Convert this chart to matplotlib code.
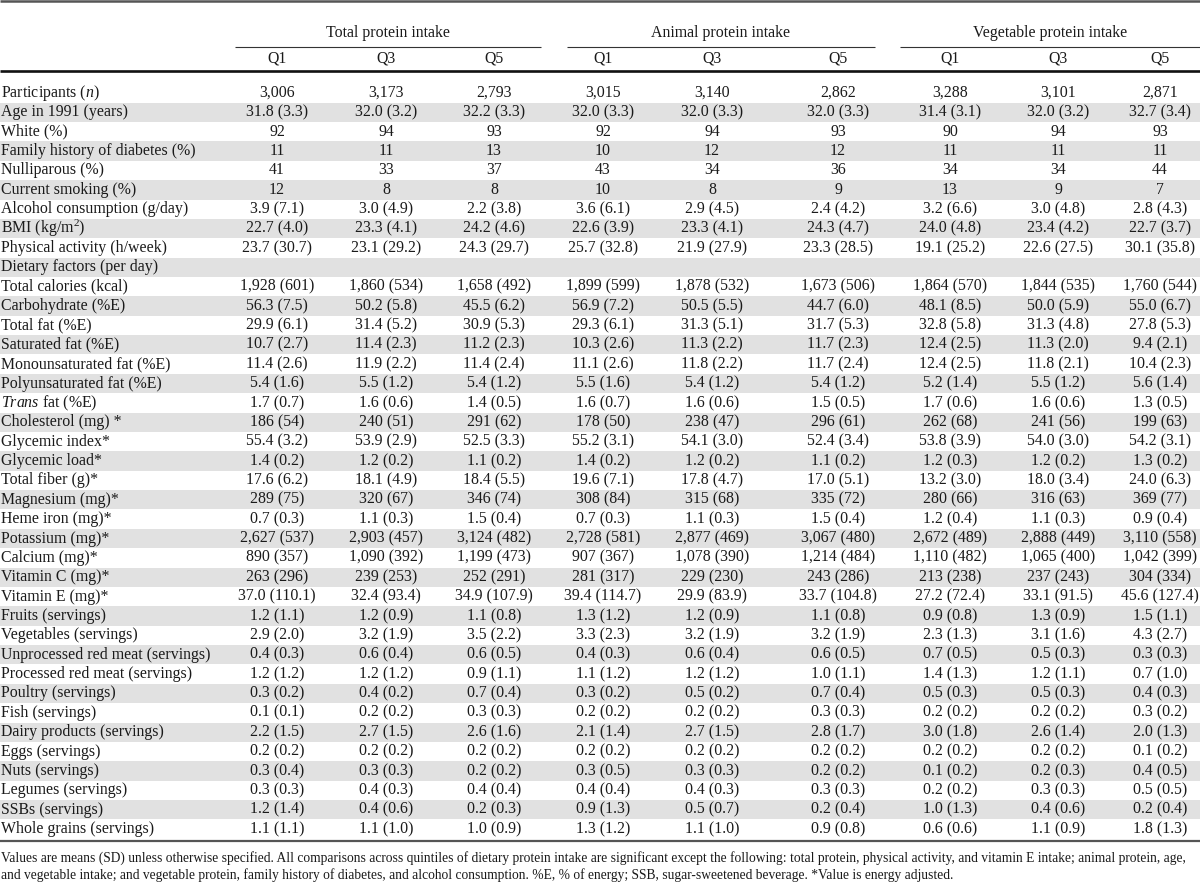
import matplotlib
matplotlib.use("Agg")
import matplotlib.pyplot as plt

plt.rcParams['font.family'] = ['Liberation Serif', 'DejaVu Serif']
plt.rcParams['mathtext.fontset'] = 'custom'
plt.rcParams['mathtext.rm'] = 'Liberation Serif'
plt.rcParams['mathtext.it'] = 'Liberation Serif:italic'

group_labels = ["Total protein intake", "Animal protein intake", "Vegetable protein intake"]
quintile_labels = ["Q1", "Q3", "Q5"]

row_labels = [
    "Participants ($n$)", "Age in 1991 (years)", "White (%)", "Family history of diabetes (%)",
    "Nulliparous (%)", "Current smoking (%)", "Alcohol consumption (g/day)", "BMI (kg/m$^2$)",
    "Physical activity (h/week)", "Dietary factors (per day)", "Total calories (kcal)",
    "Carbohydrate (%E)", "Total fat (%E)", "Saturated fat (%E)", "Monounsaturated fat (%E)",
    "Polyunsaturated fat (%E)", "$Trans$ fat (%E)", "Cholesterol (mg) *", "Glycemic index*",
    "Glycemic load*", "Total fiber (g)*", "Magnesium (mg)*", "Heme iron (mg)*", "Potassium (mg)*",
    "Calcium (mg)*", "Vitamin C (mg)*", "Vitamin E (mg)*", "Fruits (servings)",
    "Vegetables (servings)", "Unprocessed red meat (servings)", "Processed red meat (servings)",
    "Poultry (servings)", "Fish (servings)", "Dairy products (servings)", "Eggs (servings)",
    "Nuts (servings)", "Legumes (servings)", "SSBs (servings)", "Whole grains (servings)",
]

total_q1 = ["3,006", "31.8 (3.3)", "92", "11", "41", "12", "3.9 (7.1)", "22.7 (4.0)", "23.7 (30.7)", "",
            "1,928 (601)", "56.3 (7.5)", "29.9 (6.1)", "10.7 (2.7)", "11.4 (2.6)", "5.4 (1.6)", "1.7 (0.7)",
            "186 (54)", "55.4 (3.2)", "1.4 (0.2)", "17.6 (6.2)", "289 (75)", "0.7 (0.3)", "2,627 (537)",
            "890 (357)", "263 (296)", "37.0 (110.1)", "1.2 (1.1)", "2.9 (2.0)", "0.4 (0.3)", "1.2 (1.2)",
            "0.3 (0.2)", "0.1 (0.1)", "2.2 (1.5)", "0.2 (0.2)", "0.3 (0.4)", "0.3 (0.3)", "1.2 (1.4)", "1.1 (1.1)"]
total_q3 = ["3,173", "32.0 (3.2)", "94", "11", "33", "8", "3.0 (4.9)", "23.3 (4.1)", "23.1 (29.2)", "",
            "1,860 (534)", "50.2 (5.8)", "31.4 (5.2)", "11.4 (2.3)", "11.9 (2.2)", "5.5 (1.2)", "1.6 (0.6)",
            "240 (51)", "53.9 (2.9)", "1.2 (0.2)", "18.1 (4.9)", "320 (67)", "1.1 (0.3)", "2,903 (457)",
            "1,090 (392)", "239 (253)", "32.4 (93.4)", "1.2 (0.9)", "3.2 (1.9)", "0.6 (0.4)", "1.2 (1.2)",
            "0.4 (0.2)", "0.2 (0.2)", "2.7 (1.5)", "0.2 (0.2)", "0.3 (0.3)", "0.4 (0.3)", "0.4 (0.6)", "1.1 (1.0)"]
total_q5 = ["2,793", "32.2 (3.3)", "93", "13", "37", "8", "2.2 (3.8)", "24.2 (4.6)", "24.3 (29.7)", "",
            "1,658 (492)", "45.5 (6.2)", "30.9 (5.3)", "11.2 (2.3)", "11.4 (2.4)", "5.4 (1.2)", "1.4 (0.5)",
            "291 (62)", "52.5 (3.3)", "1.1 (0.2)", "18.4 (5.5)", "346 (74)", "1.5 (0.4)", "3,124 (482)",
            "1,199 (473)", "252 (291)", "34.9 (107.9)", "1.1 (0.8)", "3.5 (2.2)", "0.6 (0.5)", "0.9 (1.1)",
            "0.7 (0.4)", "0.3 (0.3)", "2.6 (1.6)", "0.2 (0.2)", "0.2 (0.2)", "0.4 (0.4)", "0.2 (0.3)", "1.0 (0.9)"]
animal_q1 = ["3,015", "32.0 (3.3)", "92", "10", "43", "10", "3.6 (6.1)", "22.6 (3.9)", "25.7 (32.8)", "",
             "1,899 (599)", "56.9 (7.2)", "29.3 (6.1)", "10.3 (2.6)", "11.1 (2.6)", "5.5 (1.6)", "1.6 (0.7)",
             "178 (50)", "55.2 (3.1)", "1.4 (0.2)", "19.6 (7.1)", "308 (84)", "0.7 (0.3)", "2,728 (581)",
             "907 (367)", "281 (317)", "39.4 (114.7)", "1.3 (1.2)", "3.3 (2.3)", "0.4 (0.3)", "1.1 (1.2)",
             "0.3 (0.2)", "0.2 (0.2)", "2.1 (1.4)", "0.2 (0.2)", "0.3 (0.5)", "0.4 (0.4)", "0.9 (1.3)", "1.3 (1.2)"]
animal_q3 = ["3,140", "32.0 (3.3)", "94", "12", "34", "8", "2.9 (4.5)", "23.3 (4.1)", "21.9 (27.9)", "",
             "1,878 (532)", "50.5 (5.5)", "31.3 (5.1)", "11.3 (2.2)", "11.8 (2.2)", "5.4 (1.2)", "1.6 (0.6)",
             "238 (47)", "54.1 (3.0)", "1.2 (0.2)", "17.8 (4.7)", "315 (68)", "1.1 (0.3)", "2,877 (469)",
             "1,078 (390)", "229 (230)", "29.9 (83.9)", "1.2 (0.9)", "3.2 (1.9)", "0.6 (0.4)", "1.2 (1.2)",
             "0.5 (0.2)", "0.2 (0.2)", "2.7 (1.5)", "0.2 (0.2)", "0.3 (0.3)", "0.4 (0.3)", "0.5 (0.7)", "1.1 (1.0)"]
animal_q5 = ["2,862", "32.0 (3.3)", "93", "12", "36", "9", "2.4 (4.2)", "24.3 (4.7)", "23.3 (28.5)", "",
             "1,673 (506)", "44.7 (6.0)", "31.7 (5.3)", "11.7 (2.3)", "11.7 (2.4)", "5.4 (1.2)", "1.5 (0.5)",
             "296 (61)", "52.4 (3.4)", "1.1 (0.2)", "17.0 (5.1)", "335 (72)", "1.5 (0.4)", "3,067 (480)",
             "1,214 (484)", "243 (286)", "33.7 (104.8)", "1.1 (0.8)", "3.2 (1.9)", "0.6 (0.5)", "1.0 (1.1)",
             "0.7 (0.4)", "0.3 (0.3)", "2.8 (1.7)", "0.2 (0.2)", "0.2 (0.2)", "0.3 (0.3)", "0.2 (0.4)", "0.9 (0.8)"]
veg_q1 = ["3,288", "31.4 (3.1)", "90", "11", "34", "13", "3.2 (6.6)", "24.0 (4.8)", "19.1 (25.2)", "",
          "1,864 (570)", "48.1 (8.5)", "32.8 (5.8)", "12.4 (2.5)", "12.4 (2.5)", "5.2 (1.4)", "1.7 (0.6)",
          "262 (68)", "53.8 (3.9)", "1.2 (0.3)", "13.2 (3.0)", "280 (66)", "1.2 (0.4)", "2,672 (489)",
          "1,110 (482)", "213 (238)", "27.2 (72.4)", "0.9 (0.8)", "2.3 (1.3)", "0.7 (0.5)", "1.4 (1.3)",
          "0.5 (0.3)", "0.2 (0.2)", "3.0 (1.8)", "0.2 (0.2)", "0.1 (0.2)", "0.2 (0.2)", "1.0 (1.3)", "0.6 (0.6)"]
veg_q3 = ["3,101", "32.0 (3.2)", "94", "11", "34", "9", "3.0 (4.8)", "23.4 (4.2)", "22.6 (27.5)", "",
          "1,844 (535)", "50.0 (5.9)", "31.3 (4.8)", "11.3 (2.0)", "11.8 (2.1)", "5.5 (1.2)", "1.6 (0.6)",
          "241 (56)", "54.0 (3.0)", "1.2 (0.2)", "18.0 (3.4)", "316 (63)", "1.1 (0.3)", "2,888 (449)",
          "1,065 (400)", "237 (243)", "33.1 (91.5)", "1.3 (0.9)", "3.1 (1.6)", "0.5 (0.3)", "1.2 (1.1)",
          "0.5 (0.3)", "0.2 (0.2)", "2.6 (1.4)", "0.2 (0.2)", "0.2 (0.3)", "0.3 (0.3)", "0.4 (0.6)", "1.1 (0.9)"]
veg_q5 = ["2,871", "32.7 (3.4)", "93", "11", "44", "7", "2.8 (4.3)", "22.7 (3.7)", "30.1 (35.8)", "",
          "1,760 (544)", "55.0 (6.7)", "27.8 (5.3)", "9.4 (2.1)", "10.4 (2.3)", "5.6 (1.4)", "1.3 (0.5)",
          "199 (63)", "54.2 (3.1)", "1.3 (0.2)", "24.0 (6.3)", "369 (77)", "0.9 (0.4)", "3,110 (558)",
          "1,042 (399)", "304 (334)", "45.6 (127.4)", "1.5 (1.1)", "4.3 (2.7)", "0.3 (0.3)", "0.7 (1.0)",
          "0.4 (0.3)", "0.3 (0.2)", "2.0 (1.3)", "0.1 (0.2)", "0.4 (0.5)", "0.5 (0.5)", "0.2 (0.4)", "1.8 (1.3)"]

footnote = [
    "Values are means (SD) unless otherwise specified. All comparisons across quintiles of dietary protein intake are significant except the following: total protein, physical activity, and vitamin E intake; animal protein, age,",
    "and vegetable intake; and vegetable protein, family history of diabetes, and alcohol consumption. %E, % of energy; SSB, sugar-sweetened beverage. *Value is energy adjusted.",
]

columns = [total_q1, total_q3, total_q5, animal_q1, animal_q3, animal_q5, veg_q1, veg_q3, veg_q5]

# layout (pixel coordinates)
W, H = 1200, 883
col_x = [277, 386, 494, 603, 712, 838, 950, 1058, 1160]
group_spans = [(235, 541), (567, 875), (900, 1200)]
row0_y = 93.0
row_h = 19.37
fs = 11.4
ink = "#1a1a1a"
shade = "#e1e1e1"

fig = plt.figure(figsize=(W / 100, H / 100), dpi=100)
ax = fig.add_axes([0, 0, 1, 1])
ax.set_xlim(0, W)
ax.set_ylim(H, 0)
ax.axis("off")

# rules
ax.plot([0, W], [1, 1], color="#555555", lw=1.8, solid_capstyle="butt")
for (x0, x1), g in zip(group_spans, group_labels):
    ax.plot([x0, x1], [46.5, 46.5], color="#333333", lw=0.8, solid_capstyle="butt")
    ax.text((x0 + x1) / 2, 33, g, ha="center", va="center", fontsize=fs, color=ink)
for i, x in enumerate(col_x):
    ax.text(x, 58.5, quintile_labels[i % 3], ha="center", va="center", fontsize=fs, color=ink)
ax.plot([0, W], [71, 71], color="#111111", lw=1.9, solid_capstyle="butt")

# rows
for r, label in enumerate(row_labels):
    y = row0_y + r * row_h
    if r % 2 == 1:
        ax.add_patch(plt.Rectangle((0, y - row_h / 2), W, row_h, color=shade, lw=0, zorder=0))
    ax.text(1, y, label, ha="left", va="center", fontsize=fs, color=ink)
    for c, x in enumerate(col_x):
        val = columns[c][r]
        if val:
            ax.text(x, y, val, ha="center", va="center", fontsize=fs, color=ink)

last_y = row0_y + (len(row_labels) - 1) * row_h
ax.plot([0, W], [last_y + 11.5, last_y + 11.5], color="#555555", lw=1.6, solid_capstyle="butt")

ax.text(1, 858, footnote[0], ha="left", va="center", fontsize=9.75, color=ink)
ax.text(1, 875, footnote[1], ha="left", va="center", fontsize=9.75, color=ink)

fig.savefig("out.png", dpi=100)
